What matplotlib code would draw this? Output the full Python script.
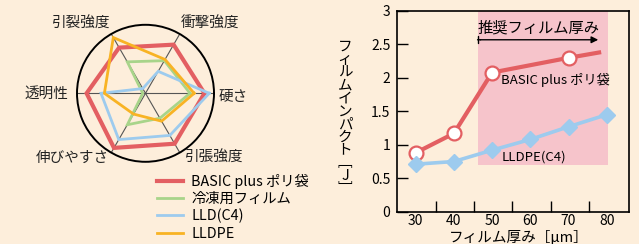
import numpy as np
import matplotlib.pyplot as plt
from matplotlib.patches import Rectangle

plt.rcParams['font.family'] = ['Noto Sans CJK JP', 'DejaVu Sans']

# レーダーチャート (外周=1)
radar_labels = ['硬さ', '衝撃強度', '引裂強度', '透明性', '伸びやすさ', '引張強度']
radar_names = ['BASIC plus ポリ袋', '冷凍用フィルム', 'LLD(C4)', 'LLDPE']
basic_vals = [0.86, 0.82, 0.77, 0.86, 0.92, 0.85]
freeze_vals = [0.65, 0.55, 0.53, 0.04, 0.53, 0.42]
lld_vals = [0.93, 0.37, 0.08, 0.65, 0.78, 0.71]
lldpe_vals = [0.71, 0.57, 0.94, 0.60, 0.35, 0.47]

# フィルムインパクト [J]
thick = [30, 40, 50, 60, 70, 80]
basic_x = [30, 40, 50, 70, 78]
basic_y = [0.88, 1.17, 2.08, 2.30, 2.38]
c4_y = [0.71, 0.75, 0.92, 1.08, 1.27, 1.45]

bg = '#FDEEDB'
red = '#E35F62'
green = '#A8D48A'
blue = '#9DCBEE'
orange = '#F8B324'
pink = '#F6C4CB'

W, H = 639, 244
fig = plt.figure(figsize=(W / 100, H / 100), dpi=100, facecolor=bg)


def px(x, y):
    return x / W, 1 - y / H


# ---- レーダー ----
cx, cy, R = 145.5, 93.3, 68.5
ax1 = fig.add_axes([(cx - R) / W, 1 - (cy + R) / H, 2 * R / W, 2 * R / H], projection='polar')
ax1.set_facecolor('none')
angles = np.deg2rad(np.arange(0, 360, 60))
ang_c = np.append(angles, angles[0])

series = [basic_vals, freeze_vals, lld_vals, lldpe_vals]
colors = [red, green, blue, orange]
widths = [3.0, 2.0, 2.0, 2.0]
handles = []
for vals, c, lw in zip(series, colors, widths):
    h, = ax1.plot(ang_c, vals + vals[:1], color=c, lw=lw, solid_joinstyle='miter')
    handles.append(h)

ax1.set_ylim(0, 1)
ax1.set_yticks([])
ax1.set_xticks(angles)
ax1.set_xticklabels([''] * 6)
ax1.xaxis.grid(True, color='#555555', lw=0.8)
ax1.spines['polar'].set_color('black')
ax1.spines['polar'].set_linewidth(1.4)

label_pos = [(233, 96.7), (210.5, 23.3), (80.8, 23.3), (46.5, 94), (72, 158), (214.7, 158)]
for lab, (x, y) in zip(radar_labels, label_pos):
    fig.text(*px(x, y), lab, fontsize=10.5, ha='center', va='center', color='#222222')

fig.legend(handles, radar_names, loc='upper left', bbox_to_anchor=px(157, 173.5),
           frameon=False, fontsize=10.3, handlelength=1.85, handletextpad=0.55,
           labelspacing=0.22, borderaxespad=0, borderpad=0)

# ---- フィルムインパクト ----
ax2 = fig.add_axes([397.3 / W, 1 - 211.7 / H, 232 / W, 200.7 / H])
ax2.set_facecolor(bg)
ax2.add_patch(Rectangle((46.2, 0.7), 34.0, 2.3, color=pink, lw=0, zorder=0))

ax2.plot(basic_x, basic_y, color=red, lw=3.0, marker='o', markevery=[0, 1, 2, 3],
         ms=10, mfc='white', mec=red, mew=1.6, zorder=3)
ax2.plot(thick, c4_y, color=blue, lw=2.6, marker='D', ms=8, mfc=blue, mec=blue, zorder=3)

ax2.set_xlim(25.2, 85.9)
ax2.set_ylim(0, 3)
ax2.set_xticks([35.3, 45.3, 55.3, 65.3, 75.3])
ax2.set_xticklabels([])
ax2.set_xticks(thick, minor=True)
ax2.set_xticklabels([str(t) for t in thick], minor=True)
ax2.tick_params(axis='x', which='major', direction='in', length=8, width=1)
ax2.tick_params(axis='x', which='minor', length=0, pad=2, labelsize=10)
ax2.set_yticks(np.arange(0, 3.01, 0.5))
ax2.set_yticklabels(['0', '0.5', '1', '1.5', '2', '2.5', '3'])
ax2.tick_params(axis='y', direction='in', length=8, width=1, pad=5, labelsize=10)
for s in ax2.spines.values():
    s.set_linewidth(1.2)

ax2.annotate('', xy=(78.5, 2.57), xytext=(46.2, 2.57),
             arrowprops=dict(arrowstyle='-|>', color='black', lw=1, mutation_scale=10))
ax2.annotate('', xy=(47, 2.57), xytext=(46.2, 2.57),
             arrowprops=dict(arrowstyle='|-|, widthA=0.25, widthB=0', color='black', lw=1,
                             shrinkA=0, shrinkB=0))
ax2.text(62.1, 2.74, '推奨フィルム厚み', fontsize=11, ha='center', va='center')
ax2.text(52.4, 1.97, 'BASIC plus ポリ袋', fontsize=9.5, ha='left', va='center')
ax2.text(52.4, 0.82, 'LLDPE(C4)', fontsize=9.5, ha='left', va='center')

fig.text(*px(519, 242), 'フィルム厚み［μm］', fontsize=10.5, ha='center', va='baseline')
ylab = '\n'.join(list('フィルムインパクト') + ['﹇', 'J', '﹈'])
fig.text(*px(345, 118), ylab, fontsize=10.5, ha='center', va='center', linespacing=0.9)

fig.savefig('out.png', dpi=100, facecolor=bg)
